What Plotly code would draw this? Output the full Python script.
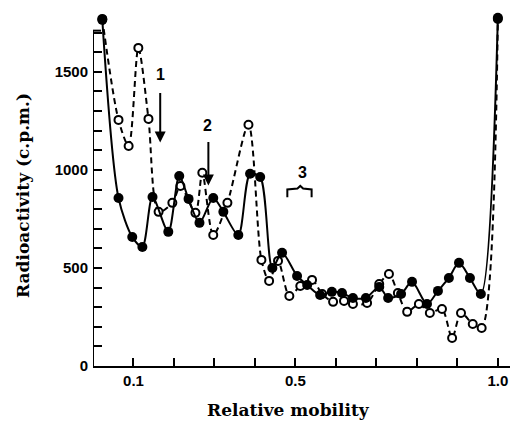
import plotly.graph_objects as go

# Filled circles (solid line)
filled_x = [0.023, 0.063, 0.097, 0.122, 0.147, 0.186, 0.213, 0.236, 0.263, 0.297, 0.322, 0.359,
            0.388, 0.413, 0.443, 0.467, 0.504, 0.529, 0.561, 0.590, 0.615, 0.642, 0.674, 0.707,
            0.729, 0.761, 0.788, 0.825, 0.852, 0.879, 0.904, 0.931, 0.958, 1.0]
filled_y = [1765, 857, 658, 607, 862, 684, 969, 852, 730, 857, 786, 668,
            980, 964, 500, 577, 459, 413, 362, 378, 372, 347, 347, 403,
            347, 367, 429, 316, 383, 449, 526, 449, 367, 1776]

# Open circles (dashed line)
open_x = [0.023, 0.063, 0.088, 0.112, 0.137, 0.162, 0.196, 0.216, 0.253, 0.270, 0.297, 0.332,
          0.384, 0.416, 0.435, 0.457, 0.485, 0.512, 0.541, 0.566, 0.593, 0.620, 0.642, 0.677,
          0.707, 0.731, 0.753, 0.776, 0.805, 0.832, 0.862, 0.887, 0.909, 0.938, 0.960, 1.0]
open_y = [1770, 1255, 1122, 1622, 1260, 786, 832, 918, 781, 985, 668, 832,
          1230, 541, 434, 536, 357, 408, 439, 367, 327, 332, 316, 321,
          418, 469, 372, 276, 316, 270, 291, 143, 270, 214, 194, 1770]

y_tickvals = list(range(0, 1800, 100))
y_ticktext = [str(v) if v % 500 == 0 else "" for v in y_tickvals]
x_tickvals = [0.1, 0.2, 0.3, 0.4, 0.5, 0.6, 0.7, 0.8, 0.9, 1.0]
x_ticktext = ["0.1", "", "", "", "0.5", "", "", "", "", "1.0"]

fig = go.Figure()
fig.add_trace(go.Scatter(
    x=open_x, y=open_y, mode="lines+markers",
    line=dict(color="black", width=2, dash="6px,4px", shape="spline", smoothing=0.8),
    marker=dict(symbol="circle", size=8, color="white", line=dict(color="black", width=2)),
    cliponaxis=False, showlegend=False))
fig.add_trace(go.Scatter(
    x=filled_x, y=filled_y, mode="lines+markers",
    line=dict(color="black", width=2, shape="spline", smoothing=0.8),
    marker=dict(symbol="circle", size=10, color="black"),
    cliponaxis=False, showlegend=False))

tickfont = dict(family="Liberation Sans", size=15, color="black", weight="bold")
fig.update_xaxes(range=[0, 1.03], showline=True, linecolor="black", linewidth=2,
                 ticks="inside", ticklen=8, tickwidth=2, tickcolor="black",
                 tickvals=x_tickvals, ticktext=x_ticktext, tickfont=tickfont,
                 showgrid=False, zeroline=False)
fig.update_yaxes(range=[0, 1800], showline=False,
                 ticks="inside", ticklen=9, tickwidth=2, tickcolor="black",
                 tickvals=y_tickvals, ticktext=y_ticktext, tickfont=tickfont,
                 showgrid=False, zeroline=False, ticklabelstandoff=4)

# y axis line up to its top
fig.add_shape(type="line", xref="x", yref="y", x0=0, x1=0, y0=0, y1=1710,
              line=dict(color="black", width=2))
fig.add_shape(type="line", xref="x", yref="y", x0=0, x1=0.02, y0=1710, y1=1710,
              line=dict(color="black", width=2))

lab = dict(family="Liberation Sans", size=16, color="black", weight="bold")
# arrows 1 and 2
fig.add_annotation(x=0.166, y=1140, ax=0.166, ay=1400, xref="x", yref="y", axref="x", ayref="y",
                   showarrow=True, arrowhead=2, arrowsize=1.1, arrowwidth=2, arrowcolor="black", text="")
fig.add_annotation(x=0.166, y=1485, text="1", showarrow=False, font=lab)
fig.add_annotation(x=0.285, y=920, ax=0.285, ay=1150, xref="x", yref="y", axref="x", ayref="y",
                   showarrow=True, arrowhead=2, arrowsize=1.1, arrowwidth=2, arrowcolor="black", text="")
fig.add_annotation(x=0.283, y=1225, text="2", showarrow=False, font=lab)
fig.add_annotation(x=0.517, y=985, text="3", showarrow=False, font=lab)
fig.add_shape(type="path", xref="x", yref="y",
              path="M 0.480 860 L 0.480 900 L 0.505 905 L 0.512 918 L 0.519 905 L 0.540 900 L 0.540 860",
              line=dict(color="black", width=2))

titlefont = dict(family="DejaVu Serif", size=17, color="black", weight="bold")
fig.add_annotation(text="Relative mobility", xref="paper", yref="paper", x=0.468, y=-0.125,
                   xanchor="center", yanchor="middle", showarrow=False, font=titlefont)
fig.add_annotation(text="Radioactivity (c.p.m.)", xref="paper", yref="y", x=-0.168, y=872,
                   textangle=-90, xanchor="center", yanchor="middle", showarrow=False, font=titlefont)

fig.update_layout(width=511, height=421, margin=dict(l=93, r=1, t=13, b=55),
                  plot_bgcolor="white", paper_bgcolor="white")
fig.write_html("out.html")
